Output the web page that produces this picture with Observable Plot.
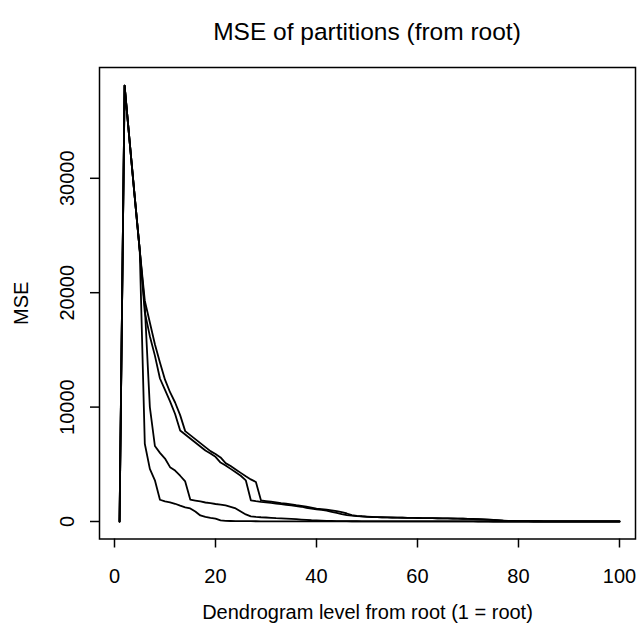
<!DOCTYPE html>
<html><head><meta charset="utf-8">
<script src="https://cdn.jsdelivr.net/npm/d3@7"></script>
<script src="https://cdn.jsdelivr.net/npm/@observablehq/plot@0.6"></script>
<style>
body{margin:0;background:#fff;font-family:"Liberation Sans",Arial,sans-serif;}
#wrap{position:relative;width:639px;height:632px;overflow:hidden;}
#title{position:absolute;left:99px;width:536px;top:20px;text-align:center;font-size:24.5px;line-height:24px;color:#000;}
#chart{position:absolute;left:0;top:50px;}
</style></head><body>
<div id="wrap"><div id="title"></div><div id="chart"></div></div>
<script>
const titleText = "MSE of partitions (from root)";
const xLabel = "Dendrogram level from root (1 = root)";
const yLabel = "MSE";
const xTicks = [0, 20, 40, 60, 80, 100];
const yTicks = [0, 10000, 20000, 30000];

// MSE per dendrogram level (level = index + 1), one array per run
const run1 = [0, 38100, 33200, 28400, 23700, 6800, 4600, 3600, 1900, 1750,
  1680, 1550, 1380, 1240, 1140, 880, 530, 400, 310, 250,
  100, 60, 45, 38, 32, 28, 24, 21, 18, 16,
  14, 13, 12, 11, 10, 9, 9, 8, 8, 7,
  7, 6, 6, 6, 5, 5, 5, 5, 4, 4,
  4, 4, 4, 3, 3, 3, 3, 3, 3, 3,
  2, 2, 2, 2, 2, 2, 2, 2, 2, 2,
  2, 1, 1, 1, 1, 1, 1, 1, 1, 1,
  1, 1, 1, 1, 1, 1, 1, 1, 1, 1,
  0, 0, 0, 0, 0, 0, 0, 0, 0, 0];
const run2 = [0, 38100, 33200, 28400, 23700, 18800, 10000, 6600, 6000, 5500,
  4750, 4450, 4000, 3500, 1920, 1830, 1750, 1660, 1600, 1530,
  1470, 1400, 1280, 1140, 880, 620, 450, 400, 370, 350,
  320, 290, 270, 250, 235, 200, 170, 140, 110, 90,
  70, 55, 45, 38, 32, 27, 23, 20, 17, 15,
  13, 12, 11, 10, 9, 8, 7, 6, 5, 5,
  4, 4, 4, 3, 3, 3, 3, 2, 2, 2,
  2, 2, 2, 2, 1, 1, 1, 1, 1, 1,
  1, 1, 1, 1, 1, 1, 1, 1, 1, 1,
  0, 0, 0, 0, 0, 0, 0, 0, 0, 0];
const run3 = [0, 38100, 33200, 28400, 23700, 18300, 16200, 14500, 12500, 11500,
  10500, 9400, 7950, 7600, 7250, 6900, 6550, 6200, 5950, 5650,
  5150, 4900, 4600, 4300, 4000, 3600, 1850, 1780, 1720, 1680,
  1620, 1570, 1520, 1460, 1400, 1340, 1290, 1200, 1120, 1060,
  1010, 950, 850, 760, 640, 560, 510, 470, 440, 410,
  390, 375, 365, 355, 345, 335, 328, 320, 312, 305,
  298, 292, 286, 280, 272, 265, 257, 248, 238, 226,
  213, 198, 180, 160, 135, 100, 70, 50, 40, 33,
  28, 25, 22, 20, 18, 16, 14, 13, 12, 11,
  10, 9, 8, 7, 7, 6, 6, 5, 5, 5];
const run4 = [0, 38100, 33200, 28400, 23700, 19300, 17400, 15500, 13900, 12400,
  11300, 10400, 9300, 7900, 7550, 7200, 6850, 6500, 6150, 5900,
  5600, 5100, 4850, 4550, 4250, 3950, 3680, 3450, 1850, 1790,
  1730, 1670, 1610, 1560, 1500, 1430, 1370, 1300, 1220, 1130,
  1080, 1030, 980, 900, 820, 700, 560, 500, 460, 430,
  405, 385, 370, 360, 350, 340, 332, 324, 316, 309,
  302, 295, 289, 283, 276, 268, 260, 252, 242, 230,
  217, 202, 185, 165, 140, 110, 78, 55, 42, 34,
  29, 26, 23, 21, 19, 17, 15, 14, 13, 12,
  11, 10, 9, 8, 7, 7, 6, 6, 5, 5];

const runs = [run1, run2, run3, run4];
const data = runs.flatMap((vals, k) => vals.map((v, i) => ({level: i + 1, mse: v, run: k})));

document.getElementById("title").textContent = titleText;

const chart = Plot.plot({
  width: 639,
  height: 582,
  marginLeft: 99,
  marginRight: 4,
  marginTop: 17,
  marginBottom: 93.5,
  x: {domain: [-2.97, 103.17]},
  y: {domain: [-1530, 39685]},
  style: {fontFamily: "'Liberation Sans', Arial, sans-serif", fontSize: "20px", background: "white", color: "black", overflow: "visible"},
  marks: [
    Plot.axisX({ticks: xTicks, tickFormat: d => String(d), tickSize: 9, tickPadding: 20.5, label: null, strokeWidth: 1.5, fontSize: 20}),
    Plot.axisY({ticks: yTicks, tickFormat: d => String(d), tickSize: 9, tickPadding: 22.5, tickRotate: -90, textAnchor: "middle", lineAnchor: "middle", label: null, strokeWidth: 1.5, fontSize: 20}),
    Plot.line(data, {x: "level", y: "mse", z: "run", stroke: "black", strokeWidth: 1.8}),
    Plot.frame({stroke: "black", strokeWidth: 1.5}),
    Plot.text([xLabel], {frameAnchor: "bottom", dy: 73.5, lineAnchor: "middle", textAnchor: "middle", fontSize: 20, fill: "black"}),
    Plot.text([yLabel], {frameAnchor: "left", dx: -77.5, rotate: -90, lineAnchor: "middle", textAnchor: "middle", fontSize: 20, fill: "black"})
  ]
});
document.getElementById("chart").appendChild(chart);
</script>
</body></html>
